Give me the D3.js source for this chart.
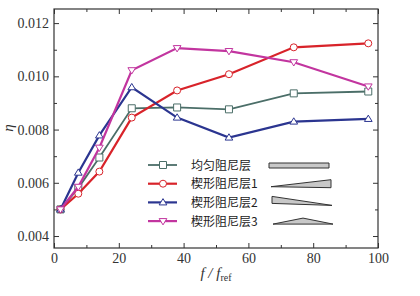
<!DOCTYPE html>
<html>
<head>
<meta charset="utf-8">
<script src="https://cdn.jsdelivr.net/npm/d3@7"></script>
<style>
  body { margin: 0; background: #fff; }
  text { font-family: "Liberation Serif", "DejaVu Serif", serif; }
</style>
</head>
<body>
<div id="chart"></div>
<script>
// data
const freqs = [2, 7.5, 14, 24, 38, 54, 74, 97];
const uniform = [0.0050, 0.0058, 0.00695, 0.00880, 0.00883, 0.00876, 0.00936, 0.00943];
const wedge1 = [0.0050, 0.00559, 0.00642, 0.00845, 0.00947, 0.01008, 0.01109, 0.01124];
const wedge2 = [0.0050, 0.00638, 0.00778, 0.00959, 0.00845, 0.00770, 0.00830, 0.00840];
const wedge3 = [0.0050, 0.00585, 0.00732, 0.01023, 0.01106, 0.01095, 0.01053, 0.00962];
const seriesNames = ["均匀阻尼层", "楔形阻尼层1", "楔形阻尼层2", "楔形阻尼层3"];
const xTicks = [0, 20, 40, 60, 80, 100];
const yTicks = [0.004, 0.006, 0.008, 0.010, 0.012];

const colors = ["#4b6e68", "#d8232a", "#2b3590", "#c2359f"];
const markers = ["square", "circle", "up", "down"];
const allSeries = [uniform, wedge1, wedge2, wedge3];

const W = 420, H = 296;
const margin = {top: 9, right: 42, bottom: 48, left: 54};
const width = W - margin.left - margin.right;
const height = H - margin.top - margin.bottom;

const svg = d3.select("#chart").append("svg")
  .attr("width", W).attr("height", H);
const g = svg.append("g")
  .attr("transform", "translate(" + margin.left + "," + margin.top + ")");

const x = d3.scaleLinear().domain([0, 100]).range([0, width]);
const y = d3.scaleLinear().domain([0.00355, 0.01253]).range([height, 0]);

// axes: inward ticks all round, minor ticks between majors
const minorX = d3.range(10, 100, 20);
const minorY = d3.range(0.005, 0.0125, 0.002);
const axColor = "#333";

function tickAxis(axisFn, scale, ticks, size, fmt) {
  return axisFn(scale).tickValues(ticks).tickSizeInner(-size).tickSizeOuter(0)
    .tickPadding(5).tickFormat(fmt);
}

g.append("g").attr("transform", "translate(0," + height + ")")
  .call(tickAxis(d3.axisBottom, x, xTicks, 5, d3.format("d")));
g.append("g").attr("transform", "translate(0," + height + ")")
  .call(tickAxis(d3.axisBottom, x, minorX, 3, ""));
g.append("g").call(tickAxis(d3.axisTop, x, xTicks, 5, ""));
g.append("g").call(tickAxis(d3.axisTop, x, minorX, 3, ""));
g.append("g")
  .call(tickAxis(d3.axisLeft, y, yTicks, 5, d3.format(".3f")));
g.append("g").call(tickAxis(d3.axisLeft, y, minorY, 3, ""));
g.append("g").attr("transform", "translate(" + width + ",0)")
  .call(tickAxis(d3.axisRight, y, yTicks, 5, ""));
g.append("g").attr("transform", "translate(" + width + ",0)")
  .call(tickAxis(d3.axisRight, y, minorY, 3, ""));

g.selectAll(".domain").remove();
g.selectAll(".tick line").attr("stroke", axColor).attr("stroke-width", 1);
g.selectAll(".tick text").attr("fill", "#333").style("font-size", "14px")
  .style("font-family", "Liberation Serif, serif");

g.append("rect").attr("width", width).attr("height", height)
  .attr("fill", "none").attr("stroke", axColor).attr("stroke-width", 1.2);

// lines
const line = d3.line().x((d, i) => x(freqs[i])).y(d => y(d));

function markerPath(type, s) {
  if (type === "square") return d3.symbol(d3.symbolSquare, s * s).apply();
  if (type === "circle") return d3.symbol(d3.symbolCircle, Math.PI * (s / 2) * (s / 2)).apply();
  const h = s * 0.9, w = s * 0.55;
  if (type === "up") return "M0," + (-h * 0.6) + "L" + w + "," + (h * 0.4) + "L" + (-w) + "," + (h * 0.4) + "Z";
  return "M0," + (h * 0.6) + "L" + w + "," + (-h * 0.4) + "L" + (-w) + "," + (-h * 0.4) + "Z";
}

allSeries.forEach((vals, k) => {
  g.append("path").datum(vals)
    .attr("d", line).attr("fill", "none")
    .attr("stroke", colors[k]).attr("stroke-width", k === 0 ? 1.8 : 2.2);
  g.selectAll(".m" + k).data(vals).enter().append("path")
    .attr("class", "m" + k)
    .attr("transform", (d, i) => "translate(" + x(freqs[i]) + "," + y(d) + ")")
    .attr("d", markerPath(markers[k], 7))
    .attr("fill", "#fff").attr("stroke", colors[k]).attr("stroke-width", 1);
});

// legend
const legend = g.append("g").attr("transform", "translate(94,156)");
seriesNames.forEach((name, k) => {
  const row = legend.append("g").attr("transform", "translate(0," + (k * 18.7) + ")");
  row.append("line").attr("x1", 0).attr("x2", 29)
    .attr("stroke", colors[k]).attr("stroke-width", k === 0 ? 1.8 : 2.2);
  row.append("path").attr("transform", "translate(15,0)")
    .attr("d", markerPath(markers[k], 7))
    .attr("fill", "#fff").attr("stroke", colors[k]).attr("stroke-width", 1);
  row.append("text").attr("x", 43).attr("y", 4.5)
    .style("font-family", "Noto Sans CJK SC").style("font-size", "12px")
    .attr("fill", "#222").text(name);
});

// layer shape sketches next to the legend
const shapes = [
  "M0,-3L60,-3L60,2L0,2Z",
  "M2,2L62,-5L62,3Z",
  "M3,-7L3,0L63,2Z",
  "M4,2L34,-4L64,2Z"
];
shapes.forEach((d, k) => {
  legend.append("path")
    .attr("transform", "translate(121," + (k * 18.7 + 1) + ")")
    .attr("d", d).attr("fill", "#c8c8c8").attr("stroke", "#333").attr("stroke-width", 1);
});

// axis titles
svg.append("text").attr("transform", "translate(13,128) rotate(-90)")
  .attr("text-anchor", "middle").style("font-style", "italic").style("font-size", "15px")
  .attr("fill", "#333").text("η");

const xt = svg.append("text").attr("x", 216).attr("y", 278)
  .attr("text-anchor", "middle").style("font-style", "italic").style("font-size", "15px")
  .attr("fill", "#333");
xt.append("tspan").text("f / f");
xt.append("tspan").attr("dy", 3).style("font-size", "10px").style("font-style", "normal").text("ref");
</script>
</body>
</html>
